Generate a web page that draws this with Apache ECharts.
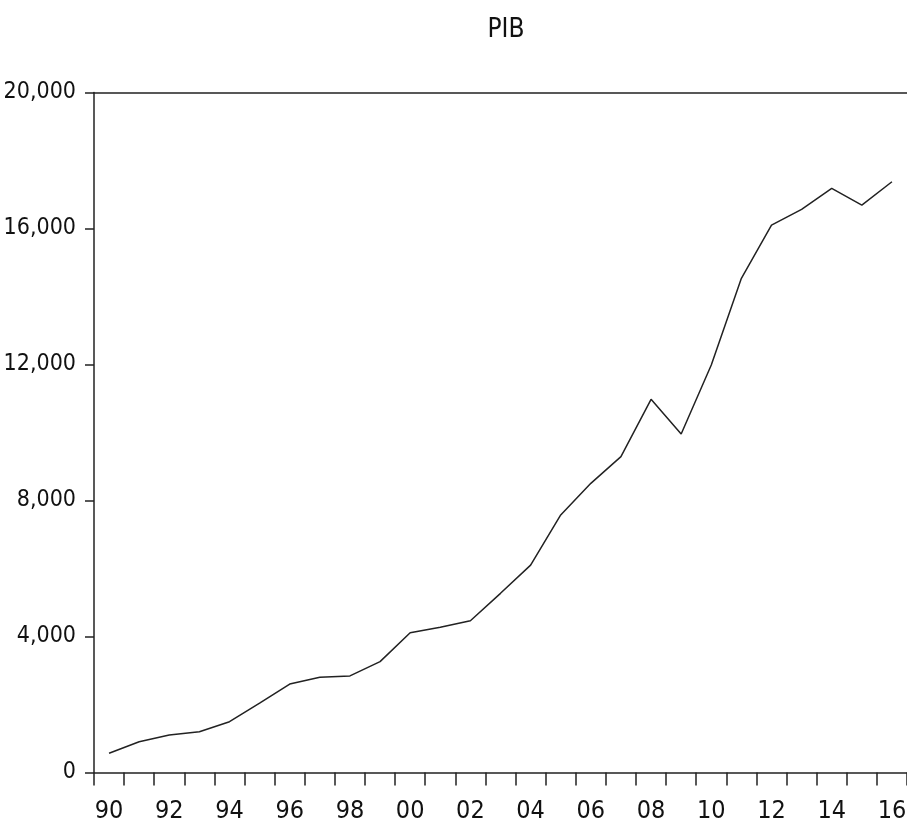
<!DOCTYPE html>
<html>
<head>
<meta charset="utf-8">
<script src="https://cdn.jsdelivr.net/npm/echarts@6/dist/echarts.min.js"></script>
<style>html,body{margin:0;padding:0;background:#fff}#c{width:907px;height:829px}</style>
</head>
<body>
<div id="c"></div>
<script>
const years = ['90','91','92','93','94','95','96','97','98','99','00','01','02','03','04','05','06','07','08','09','10','11','12','13','14','15','16'];
const pib = [565, 905, 1100, 1200, 1495, 2040, 2600, 2800, 2840, 3260, 4110, 4270, 4465, 5270, 6100, 7575, 8505, 9290, 10975, 9955, 11985, 14535, 16100, 16565, 17180, 16690, 17375];
const yTicks = [0, 4000, 8000, 12000, 16000, 20000];

const FONT = "'DejaVu Sans Condensed', 'Liberation Sans Narrow', sans-serif";
const chart = echarts.init(document.getElementById('c'));
chart.setOption({
  animation: false,
  backgroundColor: '#fff',
  title: {
    text: 'PIB', left: 501, top: 12, textAlign: 'center',
    textStyle: { fontFamily: FONT, fontSize: 26, fontWeight: 'normal', color: '#111' }
  },
  grid: { left: 94, right: 0, top: 92.5, bottom: 56.5, containLabel: false, outerBoundsMode: 'none' },
  xAxis: [{
    type: 'category', data: years, boundaryGap: true,
    axisLine: { lineStyle: { color: '#222', width: 1.5 } },
    axisTick: { show: true, interval: 0, length: 13, lineStyle: { color: '#222', width: 1.5 } },
    axisLabel: { interval: 1, margin: 26, fontFamily: FONT, fontSize: 25, color: '#111' },
    splitLine: { show: false }
  }, {
    type: 'category', data: years, position: 'top',
    axisLine: { lineStyle: { color: '#222', width: 1.5 } },
    axisTick: { show: false }, axisLabel: { show: false }, splitLine: { show: false }
  }],
  yAxis: {
    type: 'value', min: yTicks[0], max: yTicks[yTicks.length - 1], interval: 4000,
    axisLine: { show: true, lineStyle: { color: '#222', width: 1.5 } },
    axisTick: { show: true, length: 9, lineStyle: { color: '#222', width: 1.5 } },
    axisLabel: {
      margin: 18, fontFamily: FONT, fontSize: 23, color: '#111',
      formatter: v => v.toLocaleString('en-US')
    },
    splitLine: { show: false }
  },
  series: [{
    type: 'line', data: pib, xAxisIndex: 0, showSymbol: false, symbol: 'none',
    lineStyle: { color: '#222', width: 1.5 }
  }]
});
</script>
</body>
</html>
